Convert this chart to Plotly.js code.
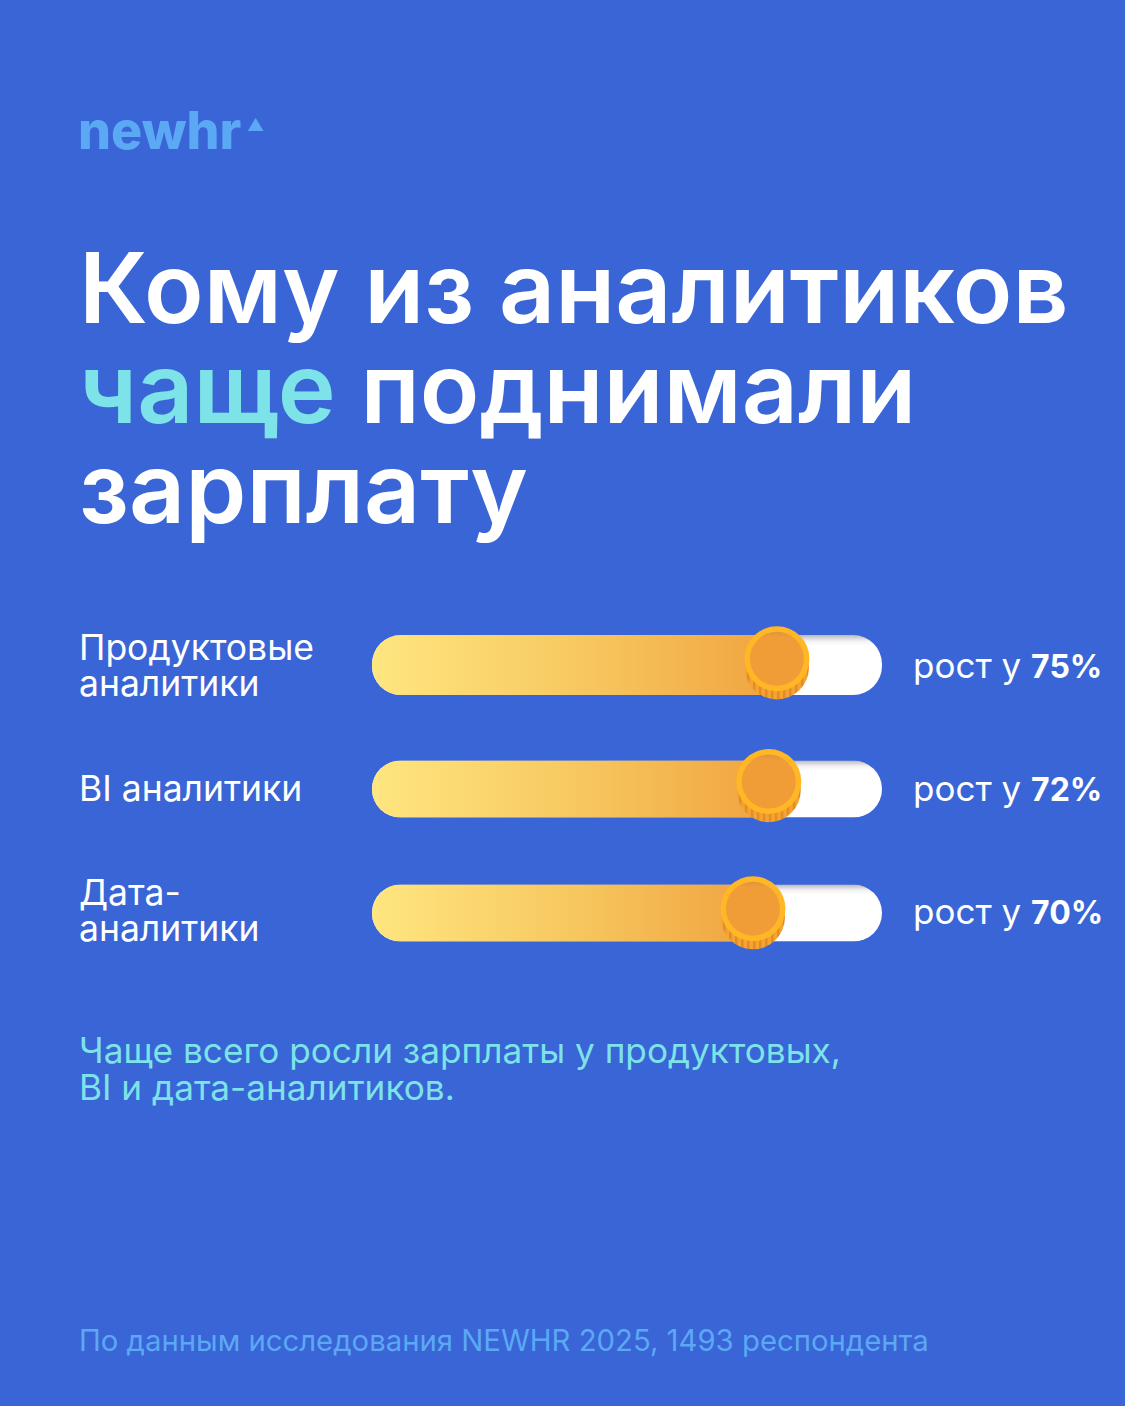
<!DOCTYPE html>
<html><head><meta charset="utf-8">
<script src="https://cdn.plot.ly/plotly-3.0.1.min.js"></script>
<style>html,body{margin:0;padding:0;background:#3965D6}#c{width:1125px;height:1406px}</style>
</head><body><div id="c"></div>
<script>
// ---- data ----
const categories = [["Продуктовые","аналитики"],["BI аналитики"],["Дата-","аналитики"]];
const growthPercent = [75,72,70];
const rows = [0,1,2];
const trackFull = [100,100,100];
const thumbPosition = [79.4,77.8,74.7];   // where the coin sits on the 0-100 track
const fillEnd = [84,82.5,79.5];           // fill runs on beneath the coin
const barThickness = [0.484,0.46,0.46];
const thumbRowOffset = [-0.05,-0.06,-0.035];
const titleLines = ["Кому из аналитиков","<span style=\"color:#7DE3E8\">чаще</span> поднимали","зарплату"];
const noteLines = ["Чаще всего росли зарплаты у продуктовых,","BI и дата-аналитиков."];
const sourceText = "По данным исследования NEWHR 2025, 1493 респондента";
const logoText = "newhr";

const W=1125,H=1406,BG="#3965D6",FONT="Inter, 'Open Sans', sans-serif";
const px=x=>x/W, py=y=>1-y/H;
function note(x,y,text,size,color,weight,anchor){
  return {xref:"paper",yref:"paper",x:px(x),y:py(y),text,showarrow:false,xanchor:anchor||"left",yanchor:"middle",align:"left",borderpad:0,
    font:{family:FONT,size,color,weight:weight||400}};
}
const anns=[];
anns.push(note(77,130,logoText,52,"#5BA8F5",800));
anns.push(note(246,125,"▲",17,"#5BA8F5",400));
const titleY=[287,387,487];
titleLines.forEach((t,i)=>anns.push(note(78,titleY[i],t,98,"#FFFFFF",600)));
const labelY=[[647,683],[788],[893,929]];
categories.forEach((c,i)=>c.forEach((l,j)=>anns.push(note(78,labelY[i][j],l,35.5,"#FFFFFF",400))));
const growthY=[665,788,911];
growthPercent.forEach((v,i)=>anns.push(note(912,growthY[i],"рост у <b style=\"font-size:32px\">"+v+"%</b>",35,"#FFFFFF",400)));
noteLines.forEach((t,i)=>anns.push(note(78,[1050,1087][i],t,35.2,"#7DE3E8",400)));
anns.push(note(78,1340,sourceText,29.3,"#5BA8F5",400));

const coin=(dy,size,color)=>({type:"scatter",mode:"markers",x:thumbPosition,
  y:rows.map((r,i)=>r+thumbRowOffset[i]+dy),marker:{size,color,line:{width:0}},hoverinfo:"skip",showlegend:false});
const data=[
 {type:"bar",orientation:"h",y:rows,x:trackFull,width:barThickness,marker:{color:"#FFFFFF",line:{width:0}},hoverinfo:"skip",showlegend:false},
 {type:"bar",orientation:"h",y:rows,x:fillEnd,width:barThickness,marker:{color:"#F2B04C",line:{width:0}},hoverinfo:"skip",showlegend:false},
 coin(0.07,64,"#F2A22E"),
 coin(0,65,"#FFB726"),
 coin(0,54,"#F09C37")
];
const layout={width:W,height:H,margin:{l:0,r:0,t:0,b:0,pad:0},paper_bgcolor:BG,plot_bgcolor:BG,barmode:"overlay",showlegend:false,
 xaxis:{domain:[372/W,882/W],range:[0,100],visible:false,fixedrange:true},
 yaxis:{domain:[0,1],range:[(H-665)/124,-665/124],visible:false,fixedrange:true},
 annotations:anns};
Plotly.newPlot("c",data,layout,{staticPlot:true,displayModeBar:false}).then(gd=>{
  const svg=gd.querySelector("svg.main-svg");
  const NS="http://www.w3.org/2000/svg";
  const defs=document.createElementNS(NS,"defs");
  defs.innerHTML=`
   <linearGradient id="fillGrad" x1="0" x2="1" y1="0" y2="0">
     <stop offset="0" stop-color="#FFE680"/><stop offset="0.5" stop-color="#F7C75F"/><stop offset="1" stop-color="#EF9F3C"/>
   </linearGradient>
   <linearGradient id="trackGrad" x1="0" x2="0" y1="0" y2="1">
     <stop offset="0" stop-color="#B9B9BD"/><stop offset="0.1" stop-color="#F2F2F3"/><stop offset="0.18" stop-color="#FFFFFF"/>
   </linearGradient>
   <linearGradient id="faceGrad" x1="0" x2="0" y1="0" y2="1">
     <stop offset="0" stop-color="#DD963F"/><stop offset="0.1" stop-color="#F09C37"/><stop offset="1" stop-color="#F09C37"/>
   </linearGradient>
   <pattern id="ridges" width="6" height="10" patternUnits="userSpaceOnUse">
     <rect width="6" height="10" fill="#F5A52F"/><rect width="2.5" height="10" fill="#E48A2C"/>
   </pattern>`;
  svg.insertBefore(defs,svg.firstChild);
  const bars=gd.querySelectorAll(".barlayer .trace");
  const round=p=>{p.style.clipPath="inset(0 round 29px)";};
  bars[0].querySelectorAll("path").forEach(p=>{p.style.fill="url(#trackGrad)";round(p);});
  bars[1].querySelectorAll("path").forEach(p=>{p.style.fill="url(#fillGrad)";round(p);});
  const sc=gd.querySelectorAll(".scatterlayer .trace");
  sc[0].querySelectorAll("path.point").forEach(p=>p.style.fill="url(#ridges)");
  sc[2].querySelectorAll("path.point").forEach(p=>p.style.fill="url(#faceGrad)");
});
</script></body></html>
